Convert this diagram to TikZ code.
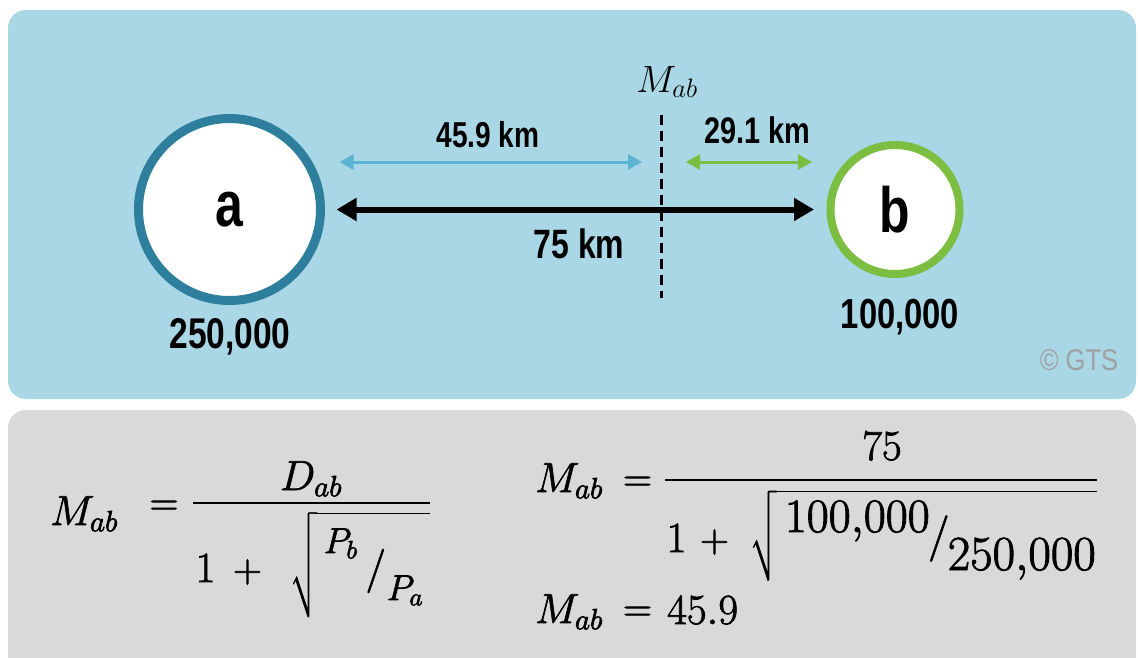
\RequirePackage{fix-cm}
\documentclass[tikz,border=0pt]{standalone}
\usepackage{amsmath}
\usepackage{graphicx}
\usepackage{fontspec}
\newfontfamily\narrowsans{Liberation Sans}[FakeStretch=0.78]
\newfontfamily\gtsfont{Liberation Sans}[FakeStretch=0.85]
\usetikzlibrary{arrows.meta}
\definecolor{panelblue}{RGB}{169,215,229}
\definecolor{panelgray}{RGB}{217,217,217}
\definecolor{ringa}{RGB}{46,126,158}
\definecolor{ringb}{RGB}{125,190,66}
\definecolor{lightarrow}{RGB}{90,180,210}
\definecolor{copygray}{RGB}{160,160,160}
\newcommand{\sz}[1]{\fontsize{#1}{#1}\selectfont}
\newcommand{\heavyon}{\special{pdf:literal direct 2 Tr 0.7 w}}
\newcommand{\heavyoff}{\special{pdf:literal direct 0 Tr}}
\tikzset{
  panel/.style={rounded corners=18pt, draw=none},
  town/.style={circle, fill=white, inner sep=0pt, font=\narrowsans\bfseries\sz{64}},
  lbl/.style={anchor=base, inner sep=0pt, font=\narrowsans\bfseries\sz{#1}},
  heavy/.style={execute at begin node=\heavyon, execute at end node=\heavyoff},
  mth/.style={anchor=base west, inner sep=0pt, font=\sz{40}, heavy},
  mthc/.style={anchor=base, inner sep=0pt, font=\sz{40}, heavy},
  mthe/.style={anchor=base east, inner sep=0pt, font=\sz{40}, heavy},
  fbar/.style={line width=2.4pt},
}
\begin{document}
\begin{tikzpicture}[x=1pt,y=-1pt]
\useasboundingbox (0,0) rectangle (1138,657);
\fill[white] (0,0) rectangle (1138,657);
\fill[panelblue, panel] (8,10) rectangle (1136,399);
\fill[panelgray, panel] (8,410) rectangle (1136,680);

% towns
\node[town, draw=ringa, line width=9pt, minimum size=182pt] (a) at (229.5,209.5) {a};
\node[town, draw=ringb, line width=8pt, minimum size=129pt] (b) at (895,209.5) {b};

% midpoint line
\coordinate (mt) at (661,115);
\coordinate (mb) at (661,298);
\draw[line width=3pt, dash pattern=on 10pt off 6pt] (mt) -- (mb);
\coordinate (m1) at (642,162);
\coordinate (g1) at (686,162);

% distance arrows
\draw[line width=6pt, {Triangle[length=20pt,width=22pt]}-{Triangle[length=20pt,width=22pt]}, shorten <=11.5pt, shorten >=12.5pt] (a) -- (b);
\draw[line width=3pt, lightarrow, {Triangle[length=14pt,width=15pt]}-{Triangle[length=14pt,width=15pt]}, shorten <=14.5pt] (a.east |- m1) -- (m1);
\draw[line width=3pt, ringb, {Triangle[length=14pt,width=15pt]}-{Triangle[length=14pt,width=15pt]}, shorten >=14.5pt] (g1) -- (b.west |- g1);

% labels
\node[anchor=base, inner sep=0pt, font=\sz{38}] (mlabel) at (667,92) {$M_{ab}$};
\node[lbl=36] (d1) at (488,147) {45.9 km};
\node[lbl=37] (d2) at (757,143) {29.1 km};
\node[lbl=41] (d3) at (579,258) {75 km};
\node[lbl=43] (pa) at (230,348) {250,000};
\node[lbl=42] (pb) at (900,328) {100,000};
\node[anchor=base, inner sep=0pt, text=copygray, font=\gtsfont\sz{30}] (gts) at (1079,370) {\textcopyright{} GTS};

% left formula
\node[mth, font=\sz{42}] (f1m) at (50,525) {$M_{ab}$};
\node[mthc] (f1eq) at (164,515) {$=$};
\coordinate (f1l) at (193,503);
\coordinate (f1r) at (430,503);
\draw[fbar] (f1l) -- (f1r);
\node[mthc, font=\sz{42}] (f1num) at (311,490) {$D_{ab}$};
\node[mthc, font=\sz{43}] (f1one) at (205.5,582) {$1$};
\node[mthc] (f1plus) at (247.5,582) {$+$};
\node[mthe] (f1root) at (430,582) {$\displaystyle\sqrt{\rule[-32pt]{0pt}{92pt}\hspace{7pt}\makebox[42pt][l]{\raisebox{29pt}{\sz{36}$P_b$}}\hspace{2pt}\makebox[16pt]{\sz{44}$/$}\hspace{3pt}\makebox[42pt][l]{\raisebox{-18pt}{\sz{36}$P_a$}}\hspace{1pt}}$};

% right formula
\node[mth, font=\sz{42}] (f2m) at (535,492) {$M_{ab}$};
\node[mthc] (f2eq) at (637.5,491) {$=$};
\coordinate (f2l) at (665,480);
\coordinate (f2r) at (1097,480);
\draw[fbar] (f2l) -- (f2r);
\node[mthc, font=\sz{43}] (f2num) at (882,460) {$75$};
\node[mthc, font=\sz{43}] (f2one) at (676.5,552) {$1$};
\node[mthc] (f2plus) at (714.5,552) {$+$};
\node[mthe] (f2root) at (1097,552) {$\displaystyle\sqrt{\rule[-28pt]{0pt}{82pt}\hspace{8pt}\raisebox{20pt}{\resizebox{145pt}{!}{$100{,}000$}}\makebox[18pt]{\raisebox{2pt}{\sz{46}$/$}}\raisebox{-18pt}{\resizebox{148pt}{!}{$250{,}000$}}\hspace{1pt}}$};

% result
\node[mth, font=\sz{42}] (f3m) at (535,623) {$M_{ab}$};
\node[mthc] (f3eq) at (637.5,621) {$=$};
\node[mth, font=\sz{43}] (f3v) at (667,624) {$45.9$};
\end{tikzpicture}
\end{document}
